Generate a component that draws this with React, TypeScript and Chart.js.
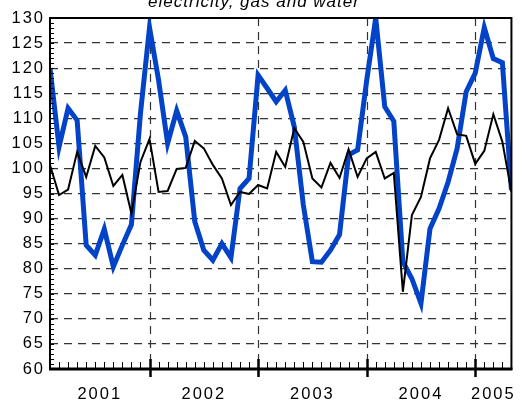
import { useEffect, useRef } from 'react';
import { Chart, registerables } from 'chart.js';

Chart.register(...registerables);

const chartTitle = 'electricity, gas and water';

const months = [
  '2001-02', '2001-03', '2001-04', '2001-05', '2001-06', '2001-07', '2001-08', '2001-09', '2001-10', '2001-11', '2001-12',
  '2002-01', '2002-02', '2002-03', '2002-04', '2002-05', '2002-06', '2002-07', '2002-08', '2002-09', '2002-10', '2002-11', '2002-12',
  '2003-01', '2003-02', '2003-03', '2003-04', '2003-05', '2003-06', '2003-07', '2003-08', '2003-09', '2003-10', '2003-11', '2003-12',
  '2004-01', '2004-02', '2004-03', '2004-04', '2004-05', '2004-06', '2004-07', '2004-08', '2004-09', '2004-10', '2004-11', '2004-12',
  '2005-01', '2005-02', '2005-03', '2005-04', '2005-05',
];

// thick blue line
const energyValues = [
  120, 104.3, 112, 109.6, 84.7, 82.7, 87.9, 80.4, 84.7, 88.8, 111,
  128.1, 117.6, 105, 111.5, 106.3, 89.4, 83.7, 81.7, 85, 82.2, 96, 98,
  118.6, 116, 113.3, 115.6, 108.3, 92.7, 81.4, 81.3, 83.7, 86.8, 102.7, 103.7,
  117.5, 130, 112.3, 109.4, 81.4, 78, 73.1, 88, 92, 97.3, 104, 115.3,
  119, 128.1, 121.9, 121.1, 95.7,
];

// thin black line
const totalValues = [
  100.7, 94.7, 95.8, 103.3, 98.3, 104.5, 102.2, 96.5, 98.7, 91, 101.3,
  105.9, 95.3, 95.5, 99.9, 100.1, 105.5, 104, 100.7, 98, 92.7, 95.3, 94.9,
  96.7, 96, 103.3, 100.3, 108, 105.3, 98, 96.2, 101.1, 98.1, 103.8, 98.3,
  102, 103.3, 98, 99.1, 75.4, 90.7, 94.3, 102, 105.7, 112, 106.8, 106.5,
  100.9, 103.5, 110.8, 105.3, 95.3,
];

const yearLabels = ['2001', '2002', '2003', '2004', '2005'];
const yMin = 60;
const yMax = 130;
const yStep = 5;

const lastIndex = months.length - 1;
const yearStarts = yearLabels.map((y) => months.findIndex((m) => m.startsWith(y)));
const yearCenters = yearStarts.map((s, k) => {
  const e = k + 1 < yearStarts.length ? yearStarts[k + 1] : lastIndex;
  return (s + e) / 2;
});
const yearBoundaries = months
  .map((m, i) => (m.endsWith('-01') ? i : -1))
  .filter((i) => i >= 0);

const FONT = '"Liberation Sans", Arial, sans-serif';
const SPACING = '2px';

const decorPlugin = {
  id: 'decor',
  beforeDraw(chart: any) {
    (chart.ctx as any).letterSpacing = SPACING;
  },
  beforeDatasetsDraw(chart: any) {
    const { ctx, chartArea: a, scales } = chart;
    const x = scales.x;
    ctx.save();
    ctx.strokeStyle = '#333';
    ctx.lineWidth = 1.2;
    ctx.setLineDash([8, 6]);
    yearBoundaries.forEach((i) => {
      const px = Math.round(x.getPixelForValue(i)) + 0.5;
      ctx.beginPath();
      ctx.moveTo(px, a.top);
      ctx.lineTo(px, a.bottom);
      ctx.stroke();
    });
    ctx.restore();
  },
  afterDatasetsDraw(chart: any) {
    const { ctx, chartArea: a, scales } = chart;
    const x = scales.x;
    const y = scales.y;
    ctx.save();
    ctx.strokeStyle = '#000';
    ctx.setLineDash([]);
    ctx.lineWidth = 1;
    for (let v = yMin; v <= yMax; v += 1) {
      const py = Math.round(y.getPixelForValue(v)) + 0.5;
      ctx.beginPath();
      ctx.moveTo(a.left, py);
      ctx.lineTo(a.left + 4, py);
      ctx.stroke();
    }
    for (let i = 0; i <= lastIndex; i++) {
      const px = Math.round(x.getPixelForValue(i)) + 0.5;
      ctx.beginPath();
      ctx.moveTo(px, a.bottom);
      ctx.lineTo(px, a.bottom - 7);
      ctx.stroke();
    }
    ctx.lineWidth = 2;
    ctx.strokeRect(a.left, a.top, a.right - a.left, a.bottom - a.top);
    ctx.lineWidth = 3;
    ctx.beginPath();
    ctx.moveTo(a.left - 1, a.bottom);
    ctx.lineTo(a.right + 1, a.bottom);
    ctx.stroke();
    ctx.lineWidth = 2.5;
    yearBoundaries.forEach((i) => {
      const px = Math.round(x.getPixelForValue(i)) + 0.5;
      ctx.beginPath();
      ctx.moveTo(px, a.bottom - 10);
      ctx.lineTo(px, a.bottom + 8);
      ctx.stroke();
    });
    ctx.fillStyle = '#000';
    ctx.font = `italic 17px ${FONT}`;
    (ctx as any).letterSpacing = '1px';
    ctx.textAlign = 'center';
    ctx.textBaseline = 'alphabetic';
    ctx.fillText(chartTitle, 254, 6.5);
    ctx.restore();
  },
};

export default function App() {
  const ref = useRef<HTMLCanvasElement>(null);
  useEffect(() => {
    if (!ref.current) return;
    const chart = new Chart(ref.current, {
      type: 'line',
      data: {
        datasets: [
          {
            label: 'total',
            data: totalValues.map((v, i) => ({ x: i, y: v })),
            borderColor: '#000',
            borderWidth: 2,
            pointRadius: 0,
            tension: 0,
            fill: false,
          },
          {
            label: chartTitle,
            data: energyValues.map((v, i) => ({ x: i, y: v })),
            borderColor: '#0343c8',
            borderWidth: 5,
            pointRadius: 0,
            tension: 0,
            fill: false,
          },
        ],
      },
      options: {
        responsive: false,
        animation: false,
        layout: { padding: { top: 18, right: 8, left: 0, bottom: 0 } },
        plugins: { legend: { display: false }, tooltip: { enabled: false }, title: { display: false } },
        scales: {
          x: {
            type: 'linear',
            min: 0,
            max: lastIndex,
            afterBuildTicks: (s: any) => {
              s.ticks = yearCenters.map((v) => ({ value: v }));
            },
            afterFit: (s: any) => {
              s.height = 32;
            },
            grid: { display: false, drawTicks: false },
            border: { display: false },
            ticks: {
              autoSkip: false,
              maxRotation: 0,
              padding: 16,
              color: '#000',
              font: { family: FONT, size: 16.5 },
              callback: (_v: any, i: number) => yearLabels[i],
            },
          },
          y: {
            min: yMin,
            max: yMax,
            afterFit: (s: any) => {
              s.width = 50;
            },
            grid: { color: '#333', lineWidth: 1.2, drawTicks: false },
            border: { display: false, dash: [8, 6] },
            ticks: {
              stepSize: yStep,
              padding: 5,
              color: '#000',
              font: { family: FONT, size: 16.5 },
            },
          },
        },
      },
      plugins: [decorPlugin],
    });
    return () => chart.destroy();
  }, []);
  return (
    <div style={{ position: 'absolute', left: 0, top: 0, width: 528, height: 401 }}>
      <canvas ref={ref} width={528} height={401} style={{ display: 'block' }} />
    </div>
  );
}
